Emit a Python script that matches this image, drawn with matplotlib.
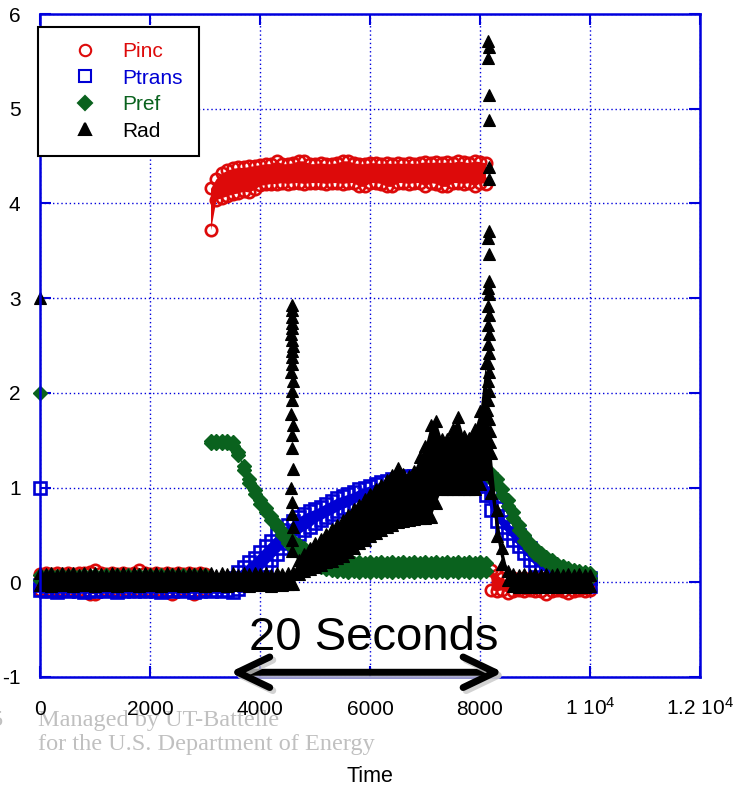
import numpy as np
import matplotlib
matplotlib.use('Agg')
import matplotlib.pyplot as plt
import matplotlib.patheffects as pe
from matplotlib.lines import Line2D

plt.rcParams['font.family'] = ['Liberation Sans', 'DejaVu Sans']
plt.rcParams['mathtext.fontset'] = 'custom'
plt.rcParams['mathtext.rm'] = 'Liberation Sans'
plt.rcParams['mathtext.it'] = 'Liberation Sans:italic'
plt.rcParams['mathtext.bf'] = 'Liberation Sans:bold'

# ---------------- data ----------------
# sample times (s)
t_full = np.arange(0, 10001, 100)
t_seg_a = np.arange(0, 3001, 100)
t_seg_b = np.arange(3100, 8101, 100)
t_seg_c = np.arange(8200, 10001, 100)

# Pinc: lower / upper edge of the scatter cloud
pinc_a_lo = [-0.08,-0.09,-0.08,-0.09,-0.08,-0.08,-0.09,-0.08,-0.09,-0.12,
             -0.12,-0.09,-0.08,-0.09,-0.08,-0.09,-0.08,-0.09,-0.08,-0.09,
             -0.08,-0.09,-0.08,-0.09,-0.12,-0.09,-0.08,-0.09,-0.12,-0.09,-0.08]
pinc_a_hi = [0.09,0.10,0.09,0.10,0.09,0.10,0.09,0.10,0.10,0.11,
             0.13,0.10,0.09,0.10,0.09,0.10,0.09,0.10,0.13,0.10,
             0.09,0.10,0.09,0.10,0.09,0.10,0.09,0.10,0.09,0.10,0.09]
pinc_b_lo = [3.72,4.04,4.06,4.08,4.10,4.11,4.13,4.12,4.15,4.19,
             4.20,4.21,4.21,4.22,4.21,4.22,4.22,4.21,4.22,4.22,
             4.22,4.21,4.22,4.22,4.21,4.22,4.22,4.18,4.18,4.22,
             4.22,4.21,4.18,4.18,4.22,4.22,4.21,4.22,4.22,4.18,
             4.22,4.21,4.18,4.18,4.22,4.22,4.21,4.22,4.18,4.22,4.21]
pinc_b_hi = [4.16,4.26,4.32,4.35,4.37,4.38,4.38,4.39,4.40,4.41,
             4.42,4.42,4.45,4.42,4.42,4.43,4.45,4.45,4.42,4.42,
             4.43,4.42,4.42,4.43,4.45,4.45,4.43,4.42,4.42,4.43,
             4.43,4.42,4.43,4.42,4.43,4.42,4.43,4.42,4.43,4.44,
             4.43,4.44,4.43,4.44,4.43,4.45,4.44,4.43,4.45,4.44,4.43]
pinc_c_lo = [-0.08,-0.09,-0.08,-0.11,-0.09,-0.08,-0.09,-0.08,-0.09,-0.09,
             -0.12,-0.09,-0.08,-0.09,-0.11,-0.09,-0.08,-0.09,-0.08]
pinc_c_hi = [0.13,0.08,0.04,0.03,0.04,0.03,0.04,0.03,0.04,0.03,
             0.04,0.03,0.04,0.03,0.04,0.03,0.04,0.05,0.04]

# Ptrans: lower / upper edge (whole run)
ptrans_lo = [-0.08,-0.09,-0.08,-0.10,-0.08,-0.09,-0.08,-0.09,-0.10,-0.08,
             -0.09,-0.08,-0.09,-0.08,-0.10,-0.09,-0.08,-0.09,-0.08,-0.09,
             -0.08,-0.09,-0.10,-0.08,-0.09,-0.08,-0.09,-0.08,-0.10,-0.09,
             -0.08,-0.09,-0.08,-0.09,-0.08,-0.10,-0.07,-0.03,0.02,0.07,
             0.12,0.18,0.24,0.30,0.36,0.41,0.46,0.51,0.55,0.58,
             0.63,0.66,0.69,0.72,0.75,0.78,0.80,0.83,0.86,0.88,
             0.90,0.92,0.94,0.95,0.97,0.98,0.99,1.00,1.01,1.01,
             1.02,1.01,1.03,1.02,1.01,1.03,1.02,1.01,1.03,1.02,
             1.02,0.92,0.76,0.65,0.58,0.52,0.45,0.38,0.31,0.24,
             0.18,0.14,0.10,0.06,0.03,0.01,-0.01,-0.02,-0.03,-0.04,
             -0.04]
ptrans_hi = [-0.03,-0.04,-0.03,-0.04,-0.03,-0.04,-0.03,-0.04,-0.03,-0.04,
             -0.03,-0.04,-0.03,-0.04,-0.03,-0.04,-0.03,-0.04,-0.03,-0.04,
             -0.03,-0.04,-0.03,-0.04,-0.03,-0.04,-0.03,-0.04,-0.03,-0.04,
             -0.03,-0.04,-0.03,-0.04,-0.03,0.05,0.11,0.16,0.21,0.26,
             0.32,0.38,0.44,0.50,0.55,0.60,0.65,0.69,0.72,0.75,
             0.77,0.80,0.83,0.86,0.89,0.91,0.93,0.95,0.98,1.00,
             1.02,1.04,1.06,1.07,1.09,1.10,1.11,1.12,1.12,1.12,
             1.13,1.14,1.12,1.13,1.14,1.12,1.13,1.14,1.12,1.13,
             1.13,1.07,0.92,0.78,0.70,0.64,0.57,0.50,0.43,0.36,
             0.30,0.25,0.20,0.16,0.13,0.11,0.09,0.08,0.07,0.06,
             0.05]

# Pref: lower / upper edge
pref_a_lo = [0.02,0.03,0.02,0.03,0.02,0.03,0.02,0.03,0.02,0.03,
             0.02,0.03,0.02,0.03,0.02,0.03,0.02,0.03,0.02,0.03,
             0.02,0.03,0.02,0.03,0.02,0.03,0.02,0.03,0.02,0.03,0.02]
pref_a_hi = [0.08,0.07,0.08,0.07,0.08,0.07,0.08,0.07,0.08,0.07,
             0.08,0.07,0.08,0.07,0.08,0.07,0.08,0.07,0.08,0.07,
             0.08,0.07,0.08,0.07,0.08,0.07,0.08,0.07,0.08,0.07,0.08]
pref_b_lo = [1.47,1.47,1.47,1.47,1.44,1.34,1.19,1.05,0.93,0.83,
             0.74,0.66,0.58,0.50,0.42,0.36,0.31,0.26,0.22,0.19,
             0.16,0.14,0.13,0.12,0.12,0.11,0.12,0.11,0.12,0.11,
             0.12,0.11,0.12,0.11,0.12,0.11,0.12,0.11,0.12,0.11,
             0.12,0.11,0.12,0.11,0.12,0.11,0.12,0.11,0.12,0.11,0.12]
pref_b_hi = [1.49,1.49,1.49,1.49,1.48,1.38,1.23,1.09,0.97,0.87,
             0.78,0.70,0.62,0.54,0.48,0.44,0.39,0.36,0.33,0.31,
             0.29,0.27,0.25,0.23,0.22,0.21,0.20,0.21,0.20,0.21,
             0.20,0.21,0.20,0.21,0.20,0.21,0.20,0.21,0.20,0.21,
             0.20,0.21,0.20,0.21,0.20,0.21,0.20,0.21,0.20,0.21,0.20]
pref_c_lo = [1.09,1.03,0.92,0.81,0.68,0.55,0.44,0.36,0.30,0.25,
             0.21,0.18,0.13,0.11,0.09,0.07,0.06,0.05,0.04]
pref_c_hi = [1.15,1.09,0.98,0.87,0.74,0.61,0.50,0.42,0.36,0.31,
             0.27,0.24,0.19,0.17,0.15,0.13,0.12,0.11,0.10]

# Rad: lower / upper edge (whole run)
rad_lo = [-0.03,-0.02,-0.04,-0.02,-0.03,-0.01,-0.04,-0.02,-0.03,-0.02,
          -0.04,-0.02,-0.03,-0.01,-0.04,-0.02,-0.03,-0.02,-0.04,-0.01,
          -0.03,-0.02,-0.04,-0.02,-0.03,-0.01,-0.04,-0.02,-0.03,-0.02,
          -0.04,-0.02,-0.03,-0.01,-0.04,-0.02,-0.03,-0.02,-0.04,-0.01,
          -0.03,-0.02,-0.04,-0.02,-0.03,-0.02,-0.02,0.09,0.12,0.14,
          0.16,0.18,0.21,0.23,0.26,0.28,0.32,0.36,0.41,0.45,
          0.49,0.52,0.55,0.58,0.61,0.64,0.65,0.66,0.67,0.68,
          0.68,0.69,0.84,0.99,0.99,0.99,0.99,0.99,0.99,0.99,
          1.04,1.14,0.94,0.49,0.19,0.02,-0.04,-0.05,-0.03,-0.05,
          -0.04,-0.05,-0.03,-0.05,-0.04,-0.05,-0.03,-0.05,-0.04,-0.05,
          -0.04]
rad_hi = [0.10,0.09,0.10,0.08,0.10,0.09,0.10,0.08,0.10,0.09,
          0.10,0.09,0.08,0.10,0.09,0.10,0.08,0.10,0.09,0.10,
          0.09,0.10,0.08,0.10,0.09,0.10,0.08,0.10,0.09,0.10,
          0.09,0.10,0.08,0.10,0.09,0.10,0.08,0.10,0.09,0.10,
          0.09,0.10,0.08,0.10,0.09,0.10,0.11,0.24,0.30,0.36,
          0.41,0.46,0.51,0.56,0.61,0.66,0.71,0.77,0.82,0.88,
          0.93,0.98,1.03,1.08,1.13,1.21,1.14,1.12,1.18,1.32,
          1.44,1.66,1.70,1.51,1.51,1.62,1.74,1.54,1.52,1.62,
          1.81,2.32,1.36,0.76,0.36,0.12,0.09,0.08,0.09,0.08,
          0.09,0.08,0.09,0.08,0.09,0.08,0.09,0.08,0.09,0.08,
          0.08]

# Rad bursts (individual samples)
rad_burst1_t = [4580,4585,4575,4590,4580,4570,4585,4595,4575,4590,
                4580,4565,4600,4575,4590,4570,4595,4580,4590,4600,
                4570,4590,4580,4595,4585,4590]
rad_burst1_v = [2.93,2.87,2.80,2.74,2.68,2.62,2.56,2.50,2.44,2.38,
                2.30,2.22,2.12,2.02,1.92,1.78,1.66,1.56,1.42,1.20,
                1.00,0.85,0.72,0.58,0.45,0.33]
rad_burst2_t = [8150,8160,8150,8170,8160,8170,8160,8160,8150,8170,
                8160,8150,8170,8140,8160,8150,8170,8140,8160,8150,
                8170,8140,8160,8150,8130,8170,8180,8190]
rad_burst2_v = [5.72,5.65,5.54,5.14,4.88,4.38,4.26,3.71,3.64,3.47,
                3.18,3.11,3.04,2.92,2.82,2.72,2.62,2.52,2.42,2.32,
                2.22,2.12,2.02,1.92,1.82,1.72,1.60,1.48]

# first recorded sample of each channel
first_t = 0
ptrans_first = 1.0
pref_first = 2.0
rad_first = 3.0

series_names = ['Pinc', 'Ptrans', 'Pref', 'Rad']
x_ticks = [0, 2000, 4000, 6000, 8000, 10000, 12000]
x_tick_labels = ['0', '2000', '4000', '6000', '8000',
                 r'$\mathregular{1\ 10^{4}}$', r'$\mathregular{1.2\ 10^{4}}$']
y_ticks = [-1, 0, 1, 2, 3, 4, 5, 6]

# ---------------- styling ----------------
RED = '#DD0A0A'
BLUE = '#0000D4'
GREEN = '#0A621E'
BLACK = '#000000'
AXBLUE = '#0000DD'

W, H = 737, 788
fig = plt.figure(figsize=(W / 100, H / 100), dpi=100)
ax = fig.add_axes([40 / W, 1 - 677 / H, 660 / W, 663 / H])

styles = {
    'Pinc': dict(marker='o', ms=8.2, mfc='none', mec=RED, mew=1.9, color=RED),
    'Ptrans': dict(marker='s', ms=8.2, mfc='none', mec=BLUE, mew=1.9, color=BLUE),
    'Pref': dict(marker='D', ms=7.0, mfc=GREEN, mec=GREEN, mew=1.0, color=GREEN),
    'Rad': dict(marker='^', ms=9.0, mfc=BLACK, mec=BLACK, mew=0.8, color=BLACK),
}


def band(t, lo, hi, name, z):
    st = styles[name]
    ax.fill_between(t, lo, hi, color=st['color'], lw=0, zorder=z)
    for arr in (lo, hi):
        ax.plot(t, arr, ls='none', marker=st['marker'], ms=st['ms'],
                mfc=st['mfc'], mec=st['mec'], mew=st['mew'],
                zorder=z, clip_on=False)


def points(t, v, name, z):
    st = styles[name]
    ax.plot(t, v, ls='none', marker=st['marker'], ms=st['ms'],
            mfc=st['mfc'], mec=st['mec'], mew=st['mew'], zorder=z,
            clip_on=False)


# Pinc
band(t_seg_a, pinc_a_lo, pinc_a_hi, 'Pinc', 2.0)
band(t_seg_b, pinc_b_lo, pinc_b_hi, 'Pinc', 2.0)
band(t_seg_c, pinc_c_lo, pinc_c_hi, 'Pinc', 2.0)
# Ptrans
band(t_full, ptrans_lo, ptrans_hi, 'Ptrans', 2.1)
points([first_t], [ptrans_first], 'Ptrans', 2.1)
# Pref
band(t_seg_a, pref_a_lo, pref_a_hi, 'Pref', 2.2)
band(t_seg_b, pref_b_lo, pref_b_hi, 'Pref', 2.2)
band(t_seg_c, pref_c_lo, pref_c_hi, 'Pref', 2.2)
points([first_t], [pref_first], 'Pref', 2.2)
# Rad
band(t_full, rad_lo, rad_hi, 'Rad', 2.3)
points(rad_burst1_t, rad_burst1_v, 'Rad', 2.3)
points(rad_burst2_t, rad_burst2_v, 'Rad', 2.3)
points([first_t], [rad_first], 'Rad', 2.3)

# axes
ax.set_xlim(0, 12000)
ax.set_ylim(-1, 6)
ax.set_xticks(x_ticks)
ax.set_xticklabels(x_tick_labels)
ax.set_yticks(y_ticks)
ax.set_yticklabels([str(v) for v in y_ticks])
ax.tick_params(direction='in', length=8, width=1.5, color=AXBLUE,
               top=True, right=True, labelsize=15, labelcolor='black')
ax.tick_params(axis='x', pad=27.5)
ax.tick_params(axis='y', pad=14)
for lbl in ax.get_xticklabels():
    lbl.set_verticalalignment('baseline')
for sp in ax.spines.values():
    sp.set_color(AXBLUE)
    sp.set_linewidth(1.8)
ax.grid(True, color=AXBLUE, linestyle=(0, (1, 2)), linewidth=1.0)
ax.set_axisbelow(True)

# legend
colors = [RED, BLUE, GREEN, BLACK]
handles = [Line2D([], [], ls='none', marker=styles[n]['marker'],
                  ms=styles[n]['ms'], mfc=styles[n]['mfc'],
                  mec=styles[n]['mec'], mew=1.5)
           for n in series_names]
leg = ax.legend(handles, series_names, loc='upper left',
                bbox_to_anchor=(-0.003, 0.981), borderaxespad=0,
                fontsize=15, frameon=True, fancybox=False, framealpha=1,
                edgecolor='black', borderpad=0.75, labelspacing=0.36,
                handlelength=3.0, handletextpad=0.3, numpoints=1)
leg.get_frame().set_linewidth(1.5)
for txt, c in zip(leg.get_texts(), colors):
    txt.set_color(c)
leg.set_zorder(10)

# annotation: 20 seconds
ax.text(6073, -0.715, '20 Seconds', fontsize=34, ha='center',
        va='baseline', color='black', zorder=6)
ax.annotate('', xy=(8420, -0.95), xytext=(3450, -0.95),
            annotation_clip=False,
            arrowprops=dict(arrowstyle='<->,head_length=1.15,head_width=0.55',
                            lw=5, color='black', shrinkA=0, shrinkB=0,
                            mutation_scale=20, capstyle='round',
                            joinstyle='round',
                            path_effects=[pe.SimpleLineShadow(offset=(2.2, -2.2),
                                                              shadow_color='0.78',
                                                              alpha=0.8),
                                          pe.Normal()]),
            zorder=6)

# axis title and footer
fig.text(370 / W, 1 - 777 / H, 'Time', ha='center', va='center', fontsize=15.5)
fig.text(38 / W, 1 - 726 / H, 'Managed by UT-Battelle', family='Liberation Serif',
         fontsize=17.5, color='#C0C0C0', va='baseline', zorder=-1)
fig.text(38 / W, 1 - 750 / H, 'for the U.S. Department of Energy',
         family='Liberation Serif', fontsize=17.5, color='#C0C0C0',
         va='baseline', zorder=-1)
fig.text(3 / W, 1 - 726 / H, '5', family='Liberation Serif', fontsize=17.5,
         color='#C0C0C0', va='baseline', ha='right', zorder=-1)

fig.savefig('out.png', dpi=100)
